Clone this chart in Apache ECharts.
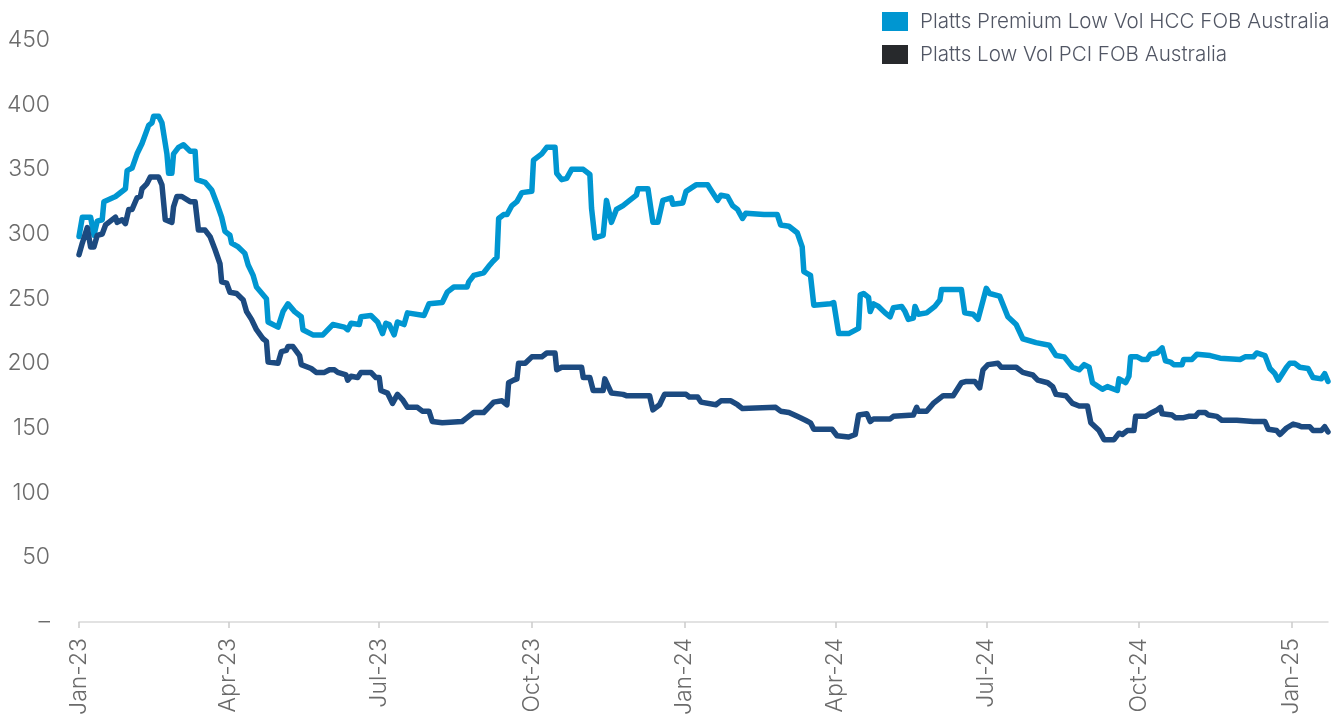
<!DOCTYPE html>
<html>
<head>
<meta charset="utf-8">
<script src="https://cdn.jsdelivr.net/npm/echarts@6/dist/echarts.min.js"></script>
<style>
html,body{margin:0;padding:0;background:#fff;}
#chart{width:1344px;height:720px;}
</style>
</head>
<body>
<div id="chart"></div>
<script>
// ---- Data ----
const seriesNames = ['Platts Premium Low Vol HCC FOB Australia', 'Platts Low Vol PCI FOB Australia'];

const tickDates = ['2023-01-01','2023-04-01','2023-07-01','2023-10-01','2024-01-01','2024-04-01','2024-07-01','2024-10-01','2025-01-01'];
const tickLabels = ['Jan-23','Apr-23','Jul-23','Oct-23','Jan-24','Apr-24','Jul-24','Oct-24','Jan-25'];

const hccDates = ['2023-01-01','2023-01-03','2023-01-08','2023-01-10','2023-01-12','2023-01-15','2023-01-16','2023-01-23','2023-01-29','2023-01-30',
'2023-02-02','2023-02-05','2023-02-08','2023-02-12','2023-02-14','2023-02-15','2023-02-18','2023-02-20','2023-02-23','2023-02-24',
'2023-02-26','2023-02-27','2023-03-02','2023-03-05','2023-03-09','2023-03-12','2023-03-13','2023-03-18','2023-03-22','2023-03-25',
'2023-03-28','2023-03-30','2023-04-02','2023-04-03','2023-04-07','2023-04-11','2023-04-13','2023-04-16','2023-04-18','2023-04-24',
'2023-04-25','2023-05-01','2023-05-04','2023-05-07','2023-05-11','2023-05-15','2023-05-16','2023-05-22','2023-05-28','2023-06-03',
'2023-06-10','2023-06-12','2023-06-14','2023-06-19','2023-06-20','2023-06-26','2023-06-30','2023-07-03','2023-07-05','2023-07-07',
'2023-07-10','2023-07-12','2023-07-16','2023-07-18','2023-07-28','2023-07-31','2023-08-08','2023-08-11','2023-08-15','2023-08-23',
'2023-08-24','2023-08-27','2023-09-02','2023-09-05','2023-09-07','2023-09-10','2023-09-11','2023-09-14','2023-09-16','2023-09-19',
'2023-09-22','2023-09-25','2023-10-01','2023-10-02','2023-10-04','2023-10-07','2023-10-10','2023-10-15','2023-10-16','2023-10-19',
'2023-10-22','2023-10-25','2023-11-01','2023-11-05','2023-11-06','2023-11-08','2023-11-13','2023-11-15','2023-11-18','2023-11-21',
'2023-11-25','2023-11-28','2023-12-03','2023-12-04','2023-12-10','2023-12-13','2023-12-16','2023-12-19','2023-12-24','2023-12-25',
'2023-12-31','2024-01-02','2024-01-08','2024-01-15','2024-01-16','2024-01-21','2024-01-23','2024-01-27','2024-01-30','2024-02-02',
'2024-02-05','2024-02-07','2024-02-18','2024-02-26','2024-02-28','2024-03-04','2024-03-09','2024-03-12','2024-03-13','2024-03-17',
'2024-03-19','2024-03-29','2024-03-31','2024-04-03','2024-04-09','2024-04-15','2024-04-16','2024-04-18','2024-04-21','2024-04-22',
'2024-04-24','2024-04-27','2024-05-01','2024-05-04','2024-05-06','2024-05-11','2024-05-13','2024-05-15','2024-05-18','2024-05-19',
'2024-05-21','2024-05-26','2024-05-31','2024-06-03','2024-06-04','2024-06-16','2024-06-18','2024-06-23','2024-06-26','2024-07-01',
'2024-07-03','2024-07-09','2024-07-14','2024-07-19','2024-07-23','2024-07-24','2024-07-31','2024-08-08','2024-08-12','2024-08-17',
'2024-08-22','2024-08-26','2024-08-29','2024-09-01','2024-09-03','2024-09-09','2024-09-12','2024-09-18','2024-09-19','2024-09-23',
'2024-09-25','2024-09-26','2024-09-30','2024-10-03','2024-10-06','2024-10-08','2024-10-12','2024-10-15','2024-10-17','2024-10-20',
'2024-10-22','2024-10-27','2024-10-28','2024-11-02','2024-11-05','2024-11-13','2024-11-19','2024-12-01','2024-12-04','2024-12-09',
'2024-12-11','2024-12-16','2024-12-19','2024-12-22','2024-12-24','2024-12-29','2024-12-31','2025-01-03','2025-01-06','2025-01-11',
'2025-01-14','2025-01-19','2025-01-21','2025-01-23'];
const hccValues = [298,313,313,299,310,311,325,329,335,349,
351,362,370,384,386,391,391,386,362,347,
347,362,367,369,364,364,342,340,334,324,
313,302,299,293,290,285,276,268,259,250,
232,228,240,246,240,236,226,222,222,230,
228,226,231,230,236,237,232,223,231,230,
222,232,230,239,237,246,247,255,259,259,
263,268,270,275,278,282,312,315,315,322,
325,332,333,357,359,362,367,367,347,342,
343,350,350,346,320,297,299,326,309,319,
322,325,330,335,335,309,309,326,328,323,
324,333,338,338,336,326,330,329,322,319,
312,316,315,315,307,306,301,290,271,268,
245,246,247,223,223,227,253,254,251,240,
246,244,239,236,243,244,240,234,235,244,
238,239,244,249,257,257,239,238,234,258,
254,252,236,230,219,218,216,214,206,205,
197,195,199,197,185,180,182,179,188,185,
190,205,205,203,203,207,208,212,202,201,
199,199,203,203,207,206,204,203,205,205,
208,206,196,192,187,197,200,200,197,196,
189,188,192,186];

const pciDates = ['2023-01-01','2023-01-03','2023-01-06','2023-01-08','2023-01-10','2023-01-12','2023-01-15','2023-01-17','2023-01-23','2023-01-24',
'2023-01-27','2023-01-29','2023-01-31','2023-02-02','2023-02-05','2023-02-07','2023-02-08','2023-02-11','2023-02-13','2023-02-18',
'2023-02-20','2023-02-22','2023-02-26','2023-02-27','2023-03-01','2023-03-04','2023-03-09','2023-03-12','2023-03-14','2023-03-18',
'2023-03-21','2023-03-24','2023-03-27','2023-03-28','2023-03-31','2023-04-02','2023-04-06','2023-04-10','2023-04-12','2023-04-15',
'2023-04-18','2023-04-22','2023-04-24','2023-04-25','2023-05-01','2023-05-03','2023-05-06','2023-05-07','2023-05-10','2023-05-14',
'2023-05-15','2023-05-21','2023-05-24','2023-05-29','2023-06-01','2023-06-04','2023-06-06','2023-06-11','2023-06-12','2023-06-14',
'2023-06-18','2023-06-20','2023-06-26','2023-06-29','2023-07-01','2023-07-02','2023-07-06','2023-07-07','2023-07-09','2023-07-12',
'2023-07-15','2023-07-18','2023-07-24','2023-07-27','2023-07-31','2023-08-02','2023-08-08','2023-08-20','2023-08-23','2023-08-27',
'2023-09-02','2023-09-05','2023-09-08','2023-09-13','2023-09-16','2023-09-17','2023-09-20','2023-09-22','2023-09-23','2023-09-27',
'2023-10-01','2023-10-07','2023-10-10','2023-10-15','2023-10-16','2023-10-19','2023-10-31','2023-11-01','2023-11-05','2023-11-07',
'2023-11-13','2023-11-14','2023-11-18','2023-11-25','2023-11-27','2023-12-11','2023-12-13','2023-12-17','2023-12-20','2024-01-02',
'2024-01-04','2024-01-09','2024-01-11','2024-01-20','2024-01-23','2024-01-29','2024-02-02','2024-02-05','2024-02-25','2024-02-28',
'2024-03-04','2024-03-09','2024-03-14','2024-03-17','2024-03-19','2024-03-30','2024-04-02','2024-04-09','2024-04-13','2024-04-15',
'2024-04-20','2024-04-22','2024-04-24','2024-05-04','2024-05-06','2024-05-18','2024-05-20','2024-05-21','2024-05-26','2024-05-30',
'2024-06-05','2024-06-11','2024-06-16','2024-06-19','2024-06-24','2024-06-27','2024-06-29','2024-07-02','2024-07-08','2024-07-10',
'2024-07-19','2024-07-23','2024-07-29','2024-08-01','2024-08-07','2024-08-10','2024-08-12','2024-08-18','2024-08-22','2024-08-26',
'2024-08-31','2024-09-02','2024-09-07','2024-09-10','2024-09-16','2024-09-19','2024-09-21','2024-09-24','2024-09-28','2024-09-29',
'2024-10-05','2024-10-09','2024-10-12','2024-10-14','2024-10-15','2024-10-21','2024-10-23','2024-10-28','2024-10-31','2024-11-04',
'2024-11-06','2024-11-10','2024-11-12','2024-11-17','2024-11-20','2024-11-29','2024-12-09','2024-12-16','2024-12-18','2024-12-23',
'2024-12-25','2024-12-29','2025-01-02','2025-01-05','2025-01-07','2025-01-12','2025-01-14','2025-01-19','2025-01-21','2025-01-23'];
const pciValues = [284,293,305,290,290,299,300,307,313,309,
311,308,319,319,328,329,335,339,344,344,
338,311,309,321,329,329,325,325,303,303,
298,288,277,263,262,255,254,249,240,234,
226,219,217,201,200,209,210,213,213,206,
199,196,193,193,195,195,193,191,187,190,
189,193,193,189,189,179,177,178,169,176,
172,166,166,163,163,155,154,155,158,162,
162,166,170,171,168,185,187,188,200,200,
205,205,208,208,195,197,197,189,189,179,
179,188,177,176,175,175,164,168,176,176,
174,174,170,168,171,171,168,165,166,163,
162,159,156,154,149,149,144,143,145,160,
161,155,157,157,159,160,166,163,163,169,
175,175,185,186,186,181,195,199,200,197,
197,193,191,187,185,182,176,175,169,167,
167,154,148,141,141,146,145,148,148,159,
159,162,164,166,161,160,158,158,159,159,
162,162,160,159,156,156,155,155,149,148,
145,150,153,152,151,151,148,148,151,147];

const xStart = '2023-01-01';
const xEnd = '2025-01-23';

// ---- Build chart ----
function toTs(s){ const p = s.split('-'); return Date.UTC(+p[0], +p[1]-1, +p[2]); }
function pair(dates, vals){ return dates.map((d,i)=>[toTs(d), vals[i]]); }
const tickTs = tickDates.map(toTs);

const chart = echarts.init(document.getElementById('chart'), null, {renderer:'canvas'});
const FONT = 'Inter, Roboto, "Noto Sans", sans-serif';
const option = {
  animation: false,
  backgroundColor: '#ffffff',
  grid: { left: 79, right: 16, top: 40, bottom: 98, containLabel: false },
  legend: {
    orient: 'vertical',
    left: 882, top: 11,
    padding: 0,
    itemWidth: 26, itemHeight: 19,
    itemGap: 12,
    icon: 'rect',
    textStyle: { fontFamily: FONT, fontSize: 20.6, fontWeight: 300, color: '#515664', padding: [0,0,0,7] },
    data: [
      { name: seriesNames[0], itemStyle: { color: '#0096d1' } },
      { name: seriesNames[1], itemStyle: { color: '#27292c' } }
    ]
  },
  xAxis: {
    type: 'value',
    min: toTs(xStart),
    max: toTs(xEnd),
    axisLine: { show: true, lineStyle: { color: '#d9d9d9', width: 1.5 } },
    axisTick: { show: true, customValues: tickTs, length: 6, lineStyle: { color: '#cccccc', width: 1.5 } },
    splitLine: { show: false },
    axisLabel: {
      customValues: tickTs,
      rotate: 90,
      margin: 16,
      fontFamily: FONT, fontSize: 23, fontWeight: 300, color: '#6b6b6b',
      formatter: function(v){ const i = tickTs.indexOf(v); return i >= 0 ? tickLabels[i] : ''; }
    }
  },
  yAxis: {
    type: 'value',
    min: 0, max: 450, interval: 50,
    axisLine: { show: false },
    axisTick: { show: false },
    splitLine: { show: false },
    axisLabel: {
      margin: 29,
      fontFamily: FONT, fontSize: 23, fontWeight: 300, color: '#6b6b6b',
      formatter: function(v){ return v === 0 ? '–' : String(v); }
    }
  },
  series: [
    { name: seriesNames[0], type: 'line', showSymbol: false, symbol: 'none',
      data: pair(hccDates, hccValues),
      itemStyle: { color: '#0096d1' },
      lineStyle: { color: '#0096d1', width: 5.5, join: 'round', cap: 'round' } },
    { name: seriesNames[1], type: 'line', showSymbol: false, symbol: 'none',
      data: pair(pciDates, pciValues),
      itemStyle: { color: '#1c4a80' },
      lineStyle: { color: '#1c4a80', width: 5.5, join: 'round', cap: 'round' } }
  ]
};
chart.setOption(option);
</script>
</body>
</html>
